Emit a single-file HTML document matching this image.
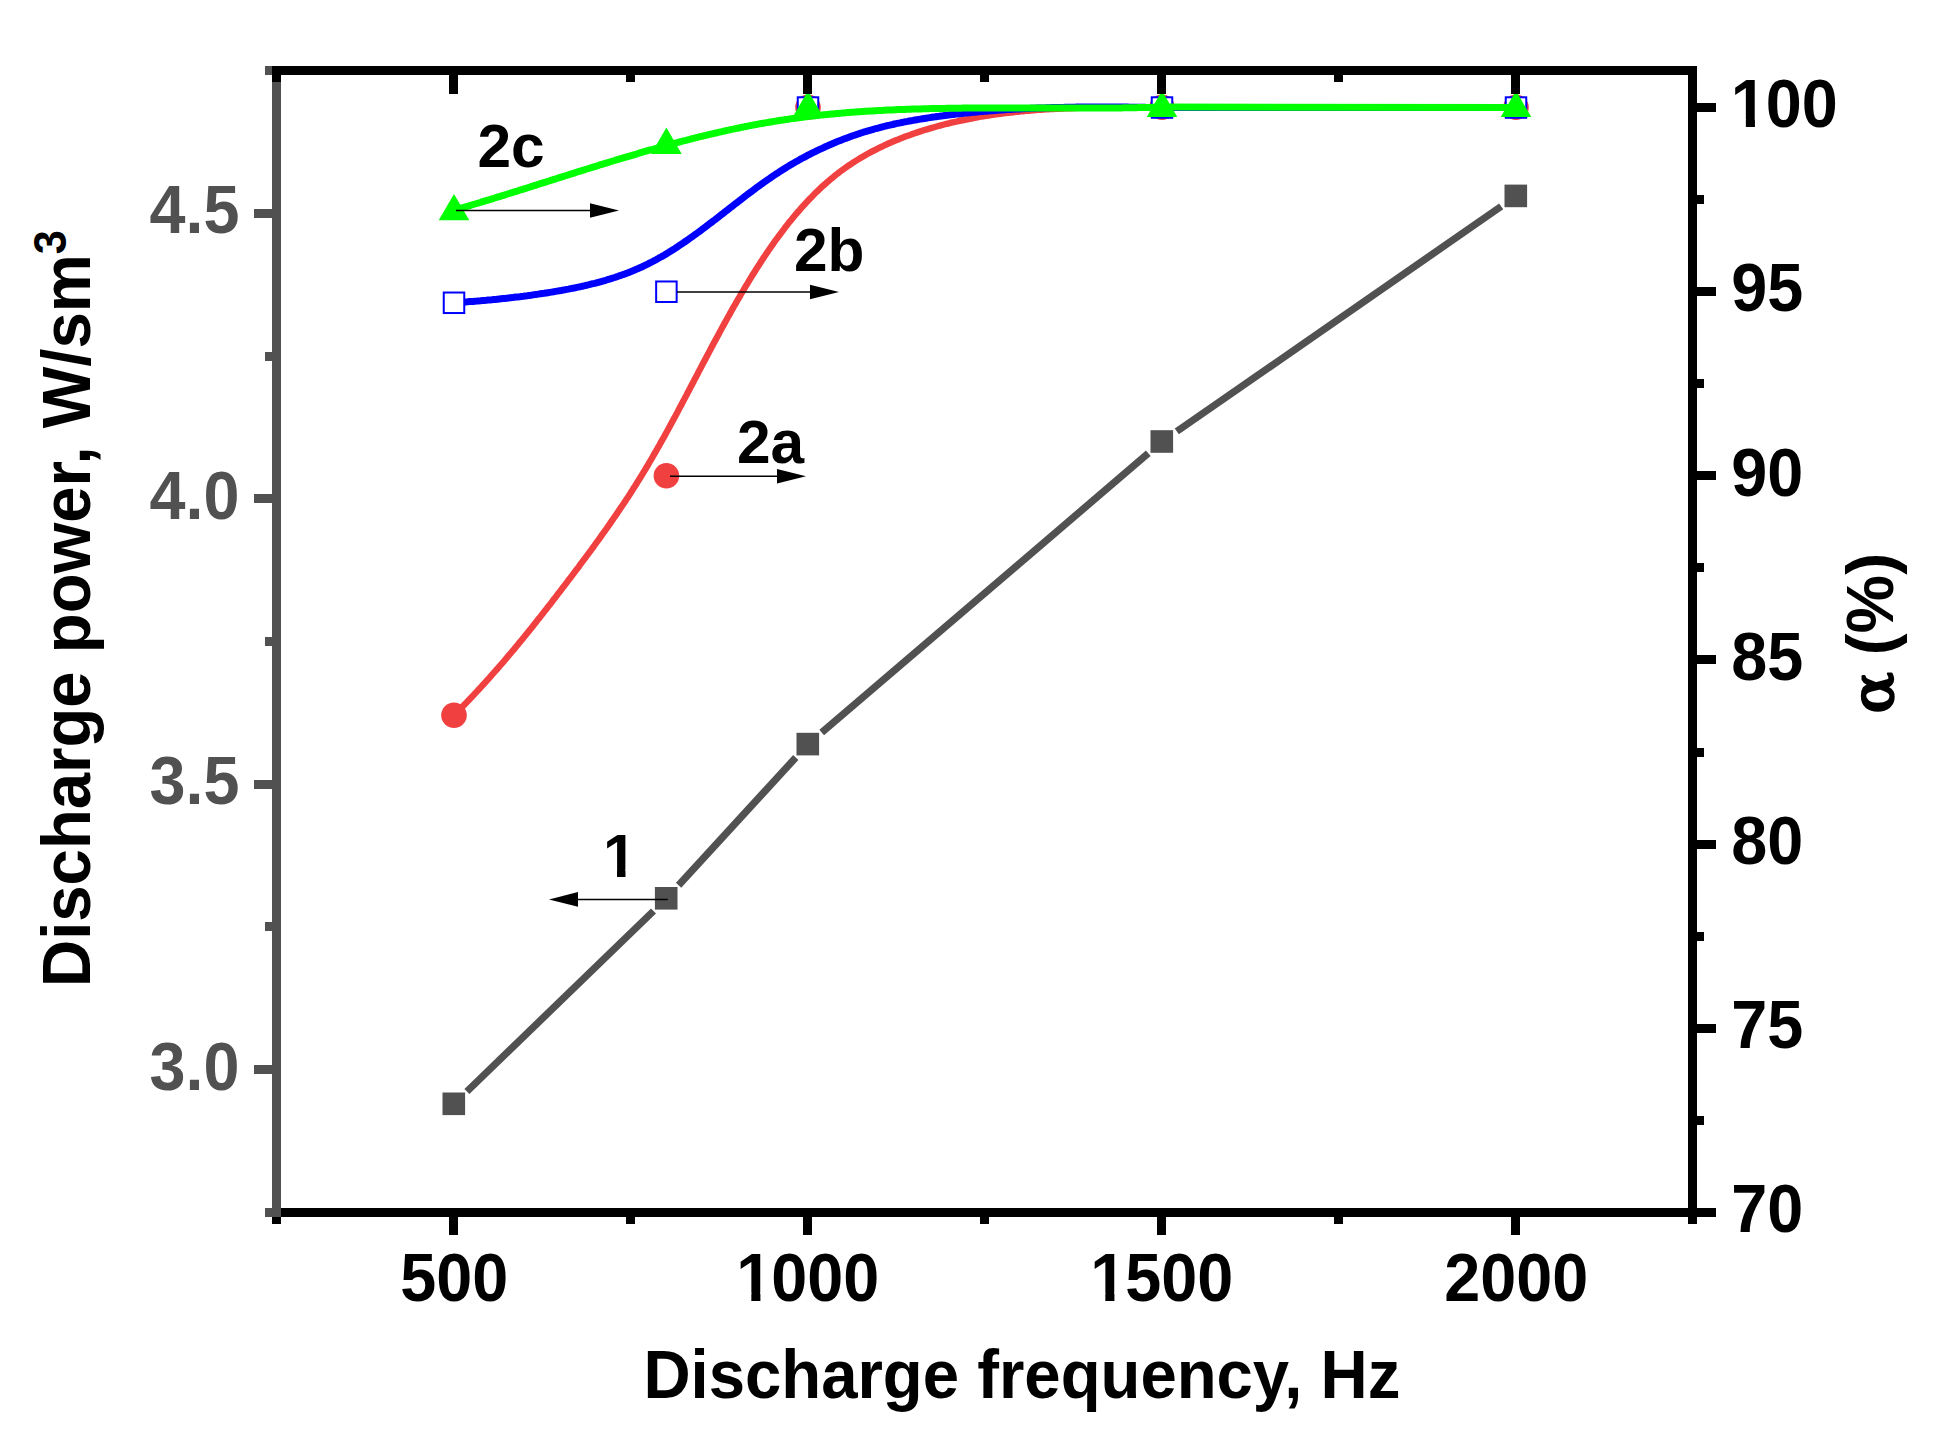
<!DOCTYPE html>
<html><head><meta charset="utf-8"><title>Discharge power and alpha vs discharge frequency</title>
<style>html,body{margin:0;padding:0;background:#fff}svg{display:block}</style></head>
<body>
<svg width="1944" height="1435" viewBox="0 0 1944 1435" font-family="'Liberation Sans',sans-serif" font-weight="bold">
<rect width="1944" height="1435" fill="#fff"/>
<defs><clipPath id="one0"><path d="M-5,-68.30 H68.30 V-8.17 H25.41 V2 H15.84 V-8.17 H-5 Z"/></clipPath><clipPath id="one1"><path d="M-5,-61.00 H61.00 V-7.43 H22.71 V2 H14.14 V-7.43 H-5 Z"/></clipPath></defs>
<line x1="466.9" y1="1091.5" x2="653.5" y2="911.0" stroke="#515151" stroke-width="7.2"/>
<line x1="678.6" y1="885.2" x2="795.8" y2="757.5" stroke="#515151" stroke-width="7.2"/>
<line x1="821.7" y1="732.6" x2="1148.3" y2="453.3" stroke="#515151" stroke-width="7.2"/>
<line x1="1176.8" y1="431.4" x2="1501.2" y2="206.4" stroke="#515151" stroke-width="7.2"/>
<rect x="442.5" y="1092.5" width="22.6" height="22.6" fill="#515151"/>
<rect x="654.9" y="887.0" width="22.6" height="22.6" fill="#515151"/>
<rect x="796.5" y="732.8" width="22.6" height="22.6" fill="#515151"/>
<rect x="1150.5" y="430.2" width="22.6" height="22.6" fill="#515151"/>
<rect x="1504.5" y="184.6" width="22.6" height="22.6" fill="#515151"/>
<path d="M454.2,714.9 L456.0,713.1 L457.8,711.4 L459.6,709.6 L461.3,707.8 L463.1,706.0 L464.8,704.2 L466.6,702.4 L468.4,700.5 L470.1,698.7 L471.8,696.9 L473.6,695.1 L475.3,693.2 L477.0,691.4 L478.7,689.5 L480.4,687.7 L482.1,685.8 L483.8,684.0 L485.5,682.1 L487.2,680.2 L488.9,678.4 L490.5,676.5 L492.2,674.6 L493.9,672.7 L495.5,670.9 L497.2,669.0 L498.8,667.1 L500.5,665.2 L502.1,663.3 L503.8,661.4 L505.4,659.5 L507.0,657.5 L508.6,655.6 L510.3,653.7 L511.9,651.8 L513.5,649.9 L515.1,647.9 L516.7,646.0 L518.3,644.1 L519.9,642.1 L521.5,640.2 L523.1,638.2 L524.7,636.3 L526.3,634.3 L527.8,632.4 L529.4,630.4 L531.0,628.5 L532.6,626.5 L534.1,624.5 L535.7,622.6 L537.2,620.6 L538.8,618.6 L540.4,616.7 L541.9,614.7 L543.5,612.7 L545.0,610.7 L546.6,608.7 L548.1,606.8 L549.7,604.8 L551.2,602.8 L552.7,600.8 L554.3,598.8 L555.8,596.8 L557.3,594.8 L558.9,592.8 L560.4,590.8 L561.9,588.8 L563.5,586.8 L565.0,584.8 L566.5,582.8 L568.0,580.8 L569.6,578.8 L571.1,576.8 L572.6,574.8 L574.1,572.8 L575.6,570.8 L577.2,568.8 L578.7,566.8 L580.2,564.7 L581.7,562.7 L583.2,560.7 L584.7,558.7 L586.2,556.6 L587.7,554.6 L589.2,552.6 L590.7,550.6 L592.2,548.5 L593.7,546.5 L595.1,544.5 L596.6,542.4 L598.1,540.4 L599.6,538.3 L601.0,536.3 L602.5,534.2 L604.0,532.2 L605.4,530.1 L606.9,528.1 L608.3,526.0 L609.8,524.0 L611.2,521.9 L612.6,519.8 L614.1,517.7 L615.5,515.7 L616.9,513.6 L618.3,511.5 L619.7,509.4 L621.1,507.3 L622.5,505.3 L623.9,503.2 L625.3,501.1 L626.7,499.0 L628.1,496.9 L629.5,494.8 L630.8,492.6 L632.2,490.5 L633.5,488.4 L634.9,486.3 L636.2,484.2 L637.5,482.0 L638.9,479.9 L640.2,477.8 L641.5,475.6 L642.8,473.5 L644.1,471.3 L645.4,469.2 L646.7,467.0 L648.0,464.9 L649.2,462.7 L650.5,460.6 L651.8,458.4 L653.0,456.2 L654.3,454.0 L655.5,451.9 L656.8,449.7 L658.0,447.5 L659.3,445.3 L660.5,443.1 L661.7,440.9 L662.9,438.8 L664.2,436.6 L665.4,434.4 L666.6,432.2 L667.8,430.0 L669.0,427.8 L670.2,425.6 L671.4,423.3 L672.6,421.1 L673.8,418.9 L675.0,416.7 L676.2,414.5 L677.4,412.3 L678.5,410.1 L679.7,407.8 L680.9,405.6 L682.1,403.4 L683.2,401.2 L684.4,399.0 L685.6,396.7 L686.8,394.5 L687.9,392.3 L689.1,390.1 L690.3,387.8 L691.4,385.6 L692.6,383.4 L693.8,381.2 L694.9,378.9 L696.1,376.7 L697.3,374.5 L698.4,372.3 L699.6,370.0 L700.8,367.8 L701.9,365.6 L703.1,363.3 L704.3,361.1 L705.5,358.9 L706.6,356.7 L707.8,354.4 L709.0,352.2 L710.2,350.0 L711.3,347.8 L712.5,345.6 L713.7,343.3 L714.9,341.1 L716.1,338.9 L717.3,336.7 L718.5,334.5 L719.7,332.2 L720.9,330.0 L722.1,327.8 L723.3,325.6 L724.5,323.4 L725.7,321.2 L726.9,319.0 L728.1,316.8 L729.4,314.6 L730.6,312.4 L731.8,310.2 L733.1,308.0 L734.3,305.8 L735.6,303.6 L736.8,301.4 L738.1,299.3 L739.4,297.1 L740.6,294.9 L741.9,292.7 L743.2,290.6 L744.5,288.4 L745.8,286.2 L747.1,284.1 L748.4,281.9 L749.7,279.7 L751.0,277.6 L752.3,275.4 L753.7,273.3 L755.0,271.2 L756.3,269.0 L757.7,266.9 L759.1,264.8 L760.4,262.6 L761.8,260.5 L763.2,258.4 L764.6,256.3 L766.0,254.2 L767.4,252.1 L768.8,250.0 L770.3,247.9 L771.7,245.9 L773.2,243.8 L774.6,241.7 L776.1,239.7 L777.6,237.7 L779.1,235.6 L780.6,233.6 L782.1,231.6 L783.6,229.6 L785.1,227.6 L786.7,225.6 L788.2,223.6 L789.8,221.6 L791.4,219.7 L793.0,217.7 L794.6,215.8 L796.2,213.9 L797.8,212.0 L799.5,210.1 L801.1,208.2 L802.8,206.3 L804.5,204.5 L806.2,202.6 L807.9,200.8 L809.6,199.0 L811.4,197.2 L813.1,195.4 L814.9,193.6 L816.7,191.8 L818.5,190.1 L820.3,188.4 L822.1,186.7 L824.0,185.0 L825.9,183.3 L827.7,181.7 L829.6,180.1 L831.5,178.5 L833.5,176.9 L835.4,175.3 L837.4,173.8 L839.3,172.2 L841.3,170.7 L843.4,169.3 L845.4,167.8 L847.4,166.4 L849.5,165.0 L851.6,163.6 L853.7,162.2 L855.8,160.9 L857.9,159.6 L860.0,158.3 L862.2,157.0 L864.4,155.7 L866.5,154.5 L868.7,153.3 L870.9,152.1 L873.2,150.9 L875.4,149.8 L877.6,148.7 L879.9,147.5 L882.2,146.5 L884.4,145.4 L886.7,144.3 L889.0,143.3 L891.3,142.3 L893.7,141.3 L896.0,140.3 L898.3,139.4 L900.7,138.4 L903.0,137.5 L905.4,136.6 L907.8,135.7 L910.1,134.9 L912.5,134.0 L914.9,133.2 L917.3,132.4 L919.7,131.6 L922.1,130.8 L924.5,130.0 L927.0,129.3 L929.4,128.6 L931.8,127.9 L934.2,127.2 L936.7,126.5 L939.1,125.8 L941.6,125.2 L944.0,124.5 L946.4,123.9 L948.9,123.3 L951.3,122.7 L953.8,122.1 L956.3,121.6 L958.7,121.0 L961.2,120.5 L963.6,120.0 L966.1,119.5 L968.6,119.0 L971.0,118.5 L973.5,118.0 L976.0,117.6 L978.4,117.1 L980.9,116.7 L983.4,116.3 L985.9,115.9 L988.4,115.5 L990.8,115.1 L993.3,114.7 L995.8,114.4 L998.3,114.0 L1000.8,113.7 L1003.3,113.4 L1005.8,113.1 L1008.3,112.8 L1010.8,112.5 L1013.3,112.2 L1015.7,111.9 L1018.2,111.7 L1020.7,111.4 L1023.2,111.2 L1025.7,110.9 L1028.3,110.7 L1030.8,110.5 L1033.3,110.3 L1035.8,110.1 L1038.3,109.9 L1040.8,109.7 L1043.3,109.6 L1045.8,109.4 L1048.3,109.2 L1050.8,109.1 L1053.3,109.0 L1055.8,108.8 L1058.4,108.7 L1060.9,108.6 L1063.4,108.5 L1065.9,108.4 L1068.4,108.3 L1070.9,108.2 L1073.4,108.1 L1076.0,108.0 L1078.5,107.9 L1081.0,107.9 L1083.5,107.8 L1086.0,107.7 L1088.6,107.7 L1091.1,107.6 L1093.6,107.6 L1096.1,107.5 L1098.6,107.5 L1101.1,107.5 L1103.7,107.4 L1106.2,107.4 L1108.7,107.4 L1111.2,107.4 L1113.7,107.4 L1116.3,107.4 L1118.8,107.3 L1121.3,107.3 L1123.8,107.3 L1126.3,107.3 L1128.8,107.3 L1131.3,107.3 L1133.9,107.3 L1136.4,107.4 L1138.9,107.4 L1141.4,107.4 L1143.9,107.4 L1146.4,107.4 L1148.9,107.4 L1151.4,107.4 L1154.0,107.4 L1156.5,107.5 L1159.0,107.5 L1161.5,107.5 L1516.0,107.4" fill="none" stroke="#f14040" stroke-width="6.4" stroke-linejoin="round"/>
<circle cx="454.0" cy="715.2" r="12.8" fill="#f14040"/>
<circle cx="666.4" cy="475.7" r="12.8" fill="#f14040"/>
<circle cx="808.0" cy="107.3" r="12.8" fill="#f14040"/>
<circle cx="1162.0" cy="107.3" r="12.8" fill="#f14040"/>
<circle cx="1516.0" cy="107.3" r="12.8" fill="#f14040"/>
<path d="M454.4,302.6 L456.3,302.5 L458.2,302.4 L460.0,302.3 L461.9,302.2 L463.8,302.0 L465.7,301.9 L467.5,301.8 L469.4,301.6 L471.3,301.5 L473.1,301.4 L475.0,301.2 L476.9,301.1 L478.7,300.9 L480.6,300.8 L482.5,300.6 L484.3,300.4 L486.2,300.3 L488.1,300.1 L489.9,299.9 L491.8,299.8 L493.7,299.6 L495.5,299.4 L497.4,299.2 L499.2,299.0 L501.1,298.8 L503.0,298.6 L504.8,298.4 L506.7,298.2 L508.6,298.0 L510.4,297.8 L512.3,297.6 L514.2,297.3 L516.0,297.1 L517.9,296.9 L519.8,296.7 L521.6,296.4 L523.5,296.2 L525.4,295.9 L527.3,295.7 L529.1,295.4 L531.0,295.2 L532.9,294.9 L534.8,294.6 L536.6,294.4 L538.5,294.1 L540.4,293.8 L542.3,293.5 L544.1,293.3 L546.0,293.0 L547.9,292.7 L549.8,292.4 L551.7,292.1 L553.6,291.8 L555.4,291.4 L557.3,291.1 L559.2,290.8 L561.1,290.5 L563.0,290.1 L564.8,289.8 L566.7,289.4 L568.6,289.1 L570.5,288.7 L572.3,288.3 L574.2,288.0 L576.1,287.6 L578.0,287.2 L579.8,286.8 L581.7,286.4 L583.6,286.0 L585.4,285.5 L587.3,285.1 L589.1,284.7 L591.0,284.2 L592.8,283.7 L594.7,283.3 L596.5,282.8 L598.4,282.3 L600.2,281.8 L602.0,281.3 L603.8,280.8 L605.7,280.3 L607.5,279.7 L609.3,279.2 L611.1,278.6 L612.9,278.0 L614.7,277.5 L616.5,276.9 L618.3,276.3 L620.1,275.6 L621.8,275.0 L623.6,274.4 L625.4,273.7 L627.1,273.1 L628.9,272.4 L630.6,271.7 L632.4,271.0 L634.1,270.3 L635.8,269.5 L637.6,268.8 L639.3,268.0 L641.0,267.3 L642.7,266.5 L644.4,265.7 L646.0,264.9 L647.7,264.1 L649.4,263.2 L651.0,262.4 L652.7,261.5 L654.3,260.6 L656.0,259.8 L657.6,258.9 L659.2,257.9 L660.9,257.0 L662.5,256.1 L664.1,255.2 L665.7,254.2 L667.3,253.2 L668.9,252.3 L670.5,251.3 L672.1,250.3 L673.7,249.3 L675.2,248.3 L676.8,247.3 L678.4,246.2 L679.9,245.2 L681.5,244.1 L683.0,243.1 L684.6,242.0 L686.1,241.0 L687.7,239.9 L689.2,238.8 L690.7,237.7 L692.3,236.6 L693.8,235.5 L695.3,234.4 L696.9,233.3 L698.4,232.2 L699.9,231.1 L701.4,230.0 L702.9,228.8 L704.4,227.7 L705.9,226.6 L707.4,225.4 L708.9,224.3 L710.4,223.1 L712.0,222.0 L713.5,220.8 L715.0,219.7 L716.5,218.5 L717.9,217.4 L719.4,216.2 L720.9,215.0 L722.4,213.9 L723.9,212.7 L725.4,211.5 L726.9,210.4 L728.4,209.2 L729.9,208.0 L731.4,206.9 L732.9,205.7 L734.4,204.5 L735.9,203.4 L737.4,202.2 L738.9,201.1 L740.4,199.9 L741.9,198.7 L743.4,197.6 L744.9,196.4 L746.4,195.3 L747.9,194.1 L749.4,193.0 L751.0,191.9 L752.5,190.7 L754.0,189.6 L755.5,188.5 L757.0,187.3 L758.6,186.2 L760.1,185.1 L761.6,184.0 L763.2,182.9 L764.7,181.8 L766.3,180.7 L767.8,179.6 L769.4,178.6 L770.9,177.5 L772.5,176.4 L774.0,175.4 L775.6,174.3 L777.2,173.3 L778.7,172.3 L780.3,171.2 L781.9,170.2 L783.5,169.2 L785.1,168.2 L786.7,167.2 L788.3,166.3 L789.9,165.3 L791.5,164.3 L793.2,163.4 L794.8,162.4 L796.4,161.5 L798.1,160.6 L799.7,159.6 L801.4,158.7 L803.0,157.8 L804.7,157.0 L806.3,156.1 L808.0,155.2 L809.7,154.3 L811.3,153.5 L813.0,152.6 L814.7,151.8 L816.4,151.0 L818.1,150.2 L819.8,149.4 L821.5,148.6 L823.2,147.8 L824.9,147.0 L826.6,146.2 L828.3,145.5 L830.0,144.7 L831.7,144.0 L833.5,143.2 L835.2,142.5 L836.9,141.8 L838.7,141.1 L840.4,140.4 L842.2,139.7 L843.9,139.0 L845.7,138.4 L847.5,137.7 L849.2,137.1 L851.0,136.4 L852.8,135.8 L854.5,135.2 L856.3,134.6 L858.1,134.0 L859.9,133.4 L861.7,132.8 L863.5,132.2 L865.3,131.7 L867.1,131.1 L868.9,130.6 L870.7,130.1 L872.5,129.6 L874.3,129.0 L876.1,128.5 L878.0,128.1 L879.8,127.6 L881.6,127.1 L883.4,126.6 L885.3,126.2 L887.1,125.7 L888.9,125.3 L890.8,124.9 L892.6,124.5 L894.5,124.0 L896.3,123.6 L898.2,123.2 L900.0,122.9 L901.9,122.5 L903.7,122.1 L905.6,121.7 L907.5,121.4 L909.3,121.0 L911.2,120.7 L913.0,120.4 L914.9,120.0 L916.8,119.7 L918.7,119.4 L920.5,119.1 L922.4,118.8 L924.3,118.5 L926.1,118.2 L928.0,117.9 L929.9,117.6 L931.8,117.3 L933.6,117.0 L935.5,116.8 L937.4,116.5 L939.3,116.3 L941.2,116.0 L943.0,115.8 L944.9,115.5 L946.8,115.3 L948.7,115.0 L950.5,114.8 L952.4,114.6 L954.3,114.4 L956.2,114.1 L958.1,113.9 L959.9,113.7 L961.8,113.5 L963.7,113.3 L965.6,113.1 L967.4,112.9 L969.3,112.7 L971.2,112.5 L973.1,112.3 L975.0,112.2 L976.8,112.0 L978.7,111.8 L980.6,111.6 L982.5,111.5 L984.4,111.3 L986.2,111.2 L988.1,111.0 L990.0,110.8 L991.9,110.7 L993.7,110.6 L995.6,110.4 L997.5,110.3 L999.4,110.1 L1001.3,110.0 L1003.1,109.9 L1005.0,109.8 L1006.9,109.6 L1008.8,109.5 L1010.7,109.4 L1012.5,109.3 L1014.4,109.2 L1016.3,109.1 L1018.2,109.0 L1020.1,108.9 L1021.9,108.8 L1023.8,108.7 L1025.7,108.6 L1027.6,108.5 L1029.5,108.4 L1031.3,108.3 L1033.2,108.3 L1035.1,108.2 L1037.0,108.1 L1038.9,108.0 L1040.8,108.0 L1042.6,107.9 L1044.5,107.9 L1046.4,107.8 L1048.3,107.7 L1050.2,107.7 L1052.1,107.6 L1053.9,107.6 L1055.8,107.5 L1057.7,107.5 L1059.6,107.4 L1061.5,107.4 L1063.3,107.4 L1065.2,107.3 L1067.1,107.3 L1069.0,107.2 L1070.9,107.2 L1072.8,107.2 L1074.7,107.2 L1076.5,107.1 L1078.4,107.1 L1080.3,107.1 L1082.2,107.1 L1084.1,107.1 L1086.0,107.0 L1087.8,107.0 L1089.7,107.0 L1091.6,107.0 L1093.5,107.0 L1095.4,107.0 L1097.3,107.0 L1099.2,107.0 L1101.0,107.0 L1102.9,107.0 L1104.8,107.0 L1106.7,107.0 L1108.6,107.0 L1110.5,107.0 L1112.4,107.0 L1114.3,107.0 L1116.1,107.0 L1118.0,107.1 L1119.9,107.1 L1121.8,107.1 L1123.7,107.1 L1125.6,107.1 L1127.5,107.1 L1129.4,107.2 L1131.3,107.2 L1133.2,107.2 L1135.0,107.2 L1136.9,107.2 L1138.8,107.3 L1140.7,107.3 L1142.6,107.3 L1144.5,107.3 L1146.4,107.4 L1148.3,107.4 L1150.2,107.4 L1152.1,107.5 L1154.0,107.5 L1155.8,107.5 L1157.7,107.6 L1159.6,107.6 L1161.5,107.6 L1516.0,107.4" fill="none" stroke="#0000ff" stroke-width="7" stroke-linejoin="round"/>
<rect x="443.75" y="292.53" width="20.5" height="20.5" fill="#fff" stroke="#0000ff" stroke-width="2"/>
<rect x="656.15" y="281.48" width="20.5" height="20.5" fill="#fff" stroke="#0000ff" stroke-width="2"/>
<rect x="797.75" y="97.29" width="20.5" height="20.5" fill="#fff" stroke="#0000ff" stroke-width="2"/>
<rect x="1151.75" y="97.29" width="20.5" height="20.5" fill="#fff" stroke="#0000ff" stroke-width="2"/>
<rect x="1505.75" y="97.29" width="20.5" height="20.5" fill="#fff" stroke="#0000ff" stroke-width="2"/>
<path d="M454.4,210.1 L456.1,209.6 L457.8,209.1 L459.5,208.6 L461.3,208.1 L463.0,207.6 L464.7,207.1 L466.4,206.6 L468.1,206.1 L469.9,205.6 L471.6,205.0 L473.3,204.5 L475.0,204.0 L476.7,203.5 L478.5,203.0 L480.2,202.5 L481.9,201.9 L483.6,201.4 L485.3,200.9 L487.1,200.4 L488.8,199.8 L490.5,199.3 L492.2,198.8 L493.9,198.3 L495.7,197.7 L497.4,197.2 L499.1,196.7 L500.8,196.1 L502.5,195.6 L504.3,195.1 L506.0,194.5 L507.7,194.0 L509.4,193.5 L511.1,192.9 L512.9,192.4 L514.6,191.8 L516.3,191.3 L518.0,190.8 L519.7,190.2 L521.5,189.7 L523.2,189.1 L524.9,188.6 L526.6,188.1 L528.4,187.5 L530.1,187.0 L531.8,186.4 L533.5,185.9 L535.2,185.3 L537.0,184.8 L538.7,184.2 L540.4,183.7 L542.1,183.1 L543.9,182.6 L545.6,182.1 L547.3,181.5 L549.0,181.0 L550.8,180.4 L552.5,179.9 L554.2,179.3 L555.9,178.8 L557.7,178.2 L559.4,177.7 L561.1,177.1 L562.8,176.6 L564.5,176.0 L566.3,175.5 L568.0,175.0 L569.7,174.4 L571.5,173.9 L573.2,173.3 L574.9,172.8 L576.6,172.2 L578.4,171.7 L580.1,171.2 L581.8,170.6 L583.5,170.1 L585.3,169.5 L587.0,169.0 L588.7,168.5 L590.5,167.9 L592.2,167.4 L593.9,166.8 L595.6,166.3 L597.4,165.8 L599.1,165.2 L600.8,164.7 L602.6,164.2 L604.3,163.6 L606.0,163.1 L607.8,162.6 L609.5,162.0 L611.2,161.5 L612.9,161.0 L614.7,160.5 L616.4,159.9 L618.1,159.4 L619.9,158.9 L621.6,158.4 L623.3,157.9 L625.1,157.3 L626.8,156.8 L628.6,156.3 L630.3,155.8 L632.0,155.3 L633.8,154.8 L635.5,154.3 L637.2,153.8 L639.0,153.2 L640.7,152.7 L642.4,152.2 L644.2,151.7 L645.9,151.2 L647.7,150.7 L649.4,150.2 L651.1,149.7 L652.9,149.3 L654.6,148.8 L656.4,148.3 L658.1,147.8 L659.8,147.3 L661.6,146.8 L663.3,146.3 L665.1,145.9 L666.8,145.4 L668.6,144.9 L670.3,144.4 L672.0,144.0 L673.8,143.5 L675.5,143.0 L677.3,142.6 L679.0,142.1 L680.8,141.6 L682.5,141.2 L684.3,140.7 L686.0,140.3 L687.8,139.8 L689.5,139.4 L691.3,138.9 L693.0,138.5 L694.8,138.0 L696.5,137.6 L698.3,137.2 L700.0,136.7 L701.8,136.3 L703.5,135.9 L705.3,135.5 L707.0,135.0 L708.8,134.6 L710.5,134.2 L712.3,133.8 L714.0,133.4 L715.8,133.0 L717.6,132.6 L719.3,132.2 L721.1,131.8 L722.8,131.4 L724.6,131.0 L726.3,130.6 L728.1,130.2 L729.9,129.8 L731.6,129.4 L733.4,129.1 L735.2,128.7 L736.9,128.3 L738.7,128.0 L740.4,127.6 L742.2,127.2 L744.0,126.9 L745.7,126.5 L747.5,126.2 L749.3,125.8 L751.0,125.5 L752.8,125.1 L754.6,124.8 L756.3,124.5 L758.1,124.1 L759.9,123.8 L761.7,123.5 L763.4,123.2 L765.2,122.9 L767.0,122.6 L768.7,122.3 L770.5,122.0 L772.3,121.7 L774.1,121.4 L775.8,121.1 L777.6,120.8 L779.4,120.5 L781.2,120.2 L782.9,120.0 L784.7,119.7 L786.5,119.4 L788.3,119.2 L790.1,118.9 L791.9,118.6 L793.6,118.4 L795.4,118.2 L797.2,117.9 L799.0,117.7 L800.8,117.4 L802.6,117.2 L804.3,117.0 L806.1,116.8 L807.9,116.5 L809.7,116.3 L811.5,116.1 L813.3,115.9 L815.1,115.7 L816.9,115.5 L818.6,115.3 L820.4,115.1 L822.2,114.9 L824.0,114.7 L825.8,114.6 L827.6,114.4 L829.4,114.2 L831.2,114.0 L833.0,113.9 L834.8,113.7 L836.6,113.5 L838.4,113.4 L840.2,113.2 L842.0,113.1 L843.8,112.9 L845.6,112.8 L847.4,112.6 L849.2,112.5 L851.0,112.3 L852.8,112.2 L854.5,112.1 L856.3,111.9 L858.1,111.8 L859.9,111.7 L861.7,111.6 L863.6,111.4 L865.4,111.3 L867.2,111.2 L869.0,111.1 L870.8,111.0 L872.6,110.9 L874.4,110.8 L876.2,110.7 L878.0,110.6 L879.8,110.5 L881.6,110.4 L883.4,110.3 L885.2,110.2 L887.0,110.1 L888.8,110.0 L890.6,109.9 L892.4,109.9 L894.2,109.8 L896.0,109.7 L897.8,109.6 L899.6,109.6 L901.4,109.5 L903.2,109.4 L905.0,109.4 L906.9,109.3 L908.7,109.2 L910.5,109.2 L912.3,109.1 L914.1,109.1 L915.9,109.0 L917.7,109.0 L919.5,108.9 L921.3,108.9 L923.1,108.8 L924.9,108.8 L926.7,108.7 L928.5,108.7 L930.4,108.6 L932.2,108.6 L934.0,108.6 L935.8,108.5 L937.6,108.5 L939.4,108.5 L941.2,108.4 L943.0,108.4 L944.8,108.4 L946.6,108.3 L948.4,108.3 L950.2,108.3 L952.1,108.3 L953.9,108.2 L955.7,108.2 L957.5,108.2 L959.3,108.2 L961.1,108.2 L962.9,108.1 L964.7,108.1 L966.5,108.1 L968.3,108.1 L970.1,108.1 L972.0,108.1 L973.8,108.1 L975.6,108.0 L977.4,108.0 L979.2,108.0 L981.0,108.0 L982.8,108.0 L984.6,108.0 L986.4,108.0 L988.2,108.0 L990.0,108.0 L991.8,108.0 L993.7,108.0 L995.5,108.0 L997.3,108.0 L999.1,108.0 L1000.9,108.0 L1002.7,108.0 L1004.5,108.0 L1006.3,108.0 L1008.1,108.0 L1009.9,108.0 L1011.7,108.0 L1013.5,108.0 L1015.4,108.0 L1017.2,108.0 L1019.0,108.0 L1020.8,108.0 L1022.6,108.0 L1024.4,108.0 L1026.2,108.0 L1028.0,108.0 L1029.8,108.0 L1031.6,108.0 L1033.4,108.0 L1035.2,108.0 L1037.0,108.0 L1038.8,108.0 L1040.7,108.0 L1042.5,108.0 L1044.3,108.0 L1046.1,108.0 L1047.9,108.1 L1049.7,108.1 L1051.5,108.1 L1053.3,108.1 L1055.1,108.1 L1056.9,108.1 L1058.7,108.1 L1060.5,108.1 L1062.3,108.1 L1064.1,108.1 L1065.9,108.1 L1067.7,108.1 L1069.6,108.1 L1071.4,108.1 L1073.2,108.1 L1075.0,108.1 L1076.8,108.1 L1078.6,108.1 L1080.4,108.1 L1082.2,108.1 L1084.0,108.1 L1085.8,108.1 L1087.6,108.1 L1089.4,108.1 L1091.2,108.1 L1093.0,108.1 L1094.8,108.1 L1096.6,108.1 L1098.4,108.0 L1100.2,108.0 L1102.0,108.0 L1103.8,108.0 L1105.6,108.0 L1107.4,108.0 L1109.2,108.0 L1111.0,108.0 L1112.8,108.0 L1114.6,107.9 L1116.4,107.9 L1118.2,107.9 L1120.0,107.9 L1121.8,107.9 L1123.6,107.8 L1125.4,107.8 L1127.2,107.8 L1129.0,107.8 L1130.8,107.7 L1132.6,107.7 L1134.4,107.7 L1136.2,107.7 L1138.0,107.6 L1139.8,107.6 L1141.6,107.6 L1143.4,107.5 L1145.2,107.5 L1147.0,107.4 L1148.8,107.4 L1150.6,107.4 L1152.4,107.3 L1154.2,107.3 L1156.0,107.2 L1157.8,107.2 L1159.6,107.1 L1161.4,107.1 L1516.0,107.4" fill="none" stroke="#00ff00" stroke-width="7" stroke-linejoin="round"/>
<polygon points="454.0,193.9 438.7,220.3 469.3,220.3" fill="#00ff00"/>
<polygon points="666.4,127.6 651.1,154.0 681.7,154.0" fill="#00ff00"/>
<polygon points="808.0,90.7 792.7,117.1 823.3,117.1" fill="#00ff00"/>
<polygon points="1162.0,90.7 1146.7,117.1 1177.3,117.1" fill="#00ff00"/>
<polygon points="1516.0,90.7 1500.7,117.1 1531.3,117.1" fill="#00ff00"/>
<g shape-rendering="crispEdges">
<rect x="272" y="1208" width="1425" height="9" fill="#000"/>
<rect x="449" y="1217" width="9" height="18" fill="#000"/>
<rect x="803" y="1217" width="9" height="18" fill="#000"/>
<rect x="1157" y="1217" width="9" height="18" fill="#000"/>
<rect x="1511" y="1217" width="9" height="18" fill="#000"/>
<rect x="272" y="1217" width="9" height="7" fill="#000"/>
<rect x="626" y="1217" width="9" height="7" fill="#000"/>
<rect x="980" y="1217" width="9" height="7" fill="#000"/>
<rect x="1334" y="1217" width="9" height="7" fill="#000"/>
<rect x="1688" y="1217" width="9" height="7" fill="#000"/>
<rect x="272" y="66" width="9" height="1151" fill="#515151"/>
<rect x="254" y="1065" width="18" height="9" fill="#515151"/>
<rect x="254" y="780" width="18" height="9" fill="#515151"/>
<rect x="254" y="494" width="18" height="9" fill="#515151"/>
<rect x="254" y="209" width="18" height="9" fill="#515151"/>
<rect x="265" y="1208" width="7" height="9" fill="#515151"/>
<rect x="265" y="922" width="7" height="9" fill="#515151"/>
<rect x="265" y="637" width="7" height="9" fill="#515151"/>
<rect x="265" y="352" width="7" height="9" fill="#515151"/>
<rect x="265" y="66" width="7" height="9" fill="#515151"/>
<rect x="272" y="66" width="1425" height="9" fill="#000"/>
<rect x="449" y="75" width="9" height="19" fill="#000"/>
<rect x="803" y="75" width="9" height="19" fill="#000"/>
<rect x="1157" y="75" width="9" height="19" fill="#000"/>
<rect x="1511" y="75" width="9" height="19" fill="#000"/>
<rect x="272" y="75" width="9" height="7" fill="#000"/>
<rect x="626" y="75" width="9" height="7" fill="#000"/>
<rect x="980" y="75" width="9" height="7" fill="#000"/>
<rect x="1334" y="75" width="9" height="7" fill="#000"/>
<rect x="1688" y="75" width="9" height="7" fill="#000"/>
<rect x="1688" y="66" width="9" height="1151" fill="#000"/>
<rect x="1697" y="1208" width="19" height="9" fill="#000"/>
<rect x="1697" y="1024" width="19" height="9" fill="#000"/>
<rect x="1697" y="840" width="19" height="9" fill="#000"/>
<rect x="1697" y="655" width="19" height="9" fill="#000"/>
<rect x="1697" y="471" width="19" height="9" fill="#000"/>
<rect x="1697" y="287" width="19" height="9" fill="#000"/>
<rect x="1697" y="103" width="19" height="9" fill="#000"/>
<rect x="1697" y="1116" width="7" height="9" fill="#000"/>
<rect x="1697" y="932" width="7" height="9" fill="#000"/>
<rect x="1697" y="748" width="7" height="9" fill="#000"/>
<rect x="1697" y="563" width="7" height="9" fill="#000"/>
<rect x="1697" y="379" width="7" height="9" fill="#000"/>
<rect x="1697" y="195" width="7" height="9" fill="#000"/>
</g>
<line x1="456" y1="210.5" x2="590" y2="210.5" stroke="#000" stroke-width="1.5"/><polygon points="619,210.5 590,203.2 590,217.8" fill="#000"/>
<line x1="677" y1="292" x2="810" y2="292" stroke="#000" stroke-width="1.5"/><polygon points="839,292 810,284.7 810,299.3" fill="#000"/>
<line x1="670" y1="476.3" x2="777" y2="476.3" stroke="#000" stroke-width="1.5"/><polygon points="806,476.3 777,469.0 777,483.6" fill="#000"/>
<line x1="667.8" y1="899.4" x2="578" y2="899.4" stroke="#000" stroke-width="1.5"/><polygon points="549,899.4 578,892.1 578,906.6999999999999" fill="#000"/>
<text transform="translate(239.5,1089.5) scale(0.948,1)" font-size="68.3" fill="#515151" text-anchor="end">3.0</text>
<text transform="translate(239.5,804.0) scale(0.948,1)" font-size="68.3" fill="#515151" text-anchor="end">3.5</text>
<text transform="translate(239.5,518.5) scale(0.948,1)" font-size="68.3" fill="#515151" text-anchor="end">4.0</text>
<text transform="translate(239.5,232.9) scale(0.948,1)" font-size="68.3" fill="#515151" text-anchor="end">4.5</text>
<text transform="translate(1731.3,1232.4) scale(0.948,1)" font-size="68.3" fill="#000">70</text>
<text transform="translate(1731.3,1048.2) scale(0.948,1)" font-size="68.3" fill="#000">75</text>
<text transform="translate(1731.3,864.0) scale(0.948,1)" font-size="68.3" fill="#000">80</text>
<text transform="translate(1731.3,679.8) scale(0.948,1)" font-size="68.3" fill="#000">85</text>
<text transform="translate(1731.3,495.6) scale(0.948,1)" font-size="68.3" fill="#000">90</text>
<text transform="translate(1731.3,311.4) scale(0.948,1)" font-size="68.3" fill="#000">95</text>
<g transform="translate(1729.8,127.2) scale(0.948,1)" font-size="68.3" fill="#000"><g transform="translate(1.10,0)" clip-path="url(#one0)"><text>1</text></g><text x="37.99">00</text></g>
<text transform="translate(454.3,1301) scale(0.948,1)" font-size="68.3" fill="#000" text-anchor="middle">500</text>
<g transform="translate(807.3,1301) scale(0.948,1)" font-size="68.3" fill="#000"><g transform="translate(-74.87,0)" clip-path="url(#one0)"><text>1</text></g><text x="-37.99">000</text></g>
<g transform="translate(1161.3,1301) scale(0.948,1)" font-size="68.3" fill="#000"><g transform="translate(-74.87,0)" clip-path="url(#one0)"><text>1</text></g><text x="-37.99">500</text></g>
<text transform="translate(1516.3,1301) scale(0.948,1)" font-size="68.3" fill="#000" text-anchor="middle">2000</text>
<text transform="translate(643.4,1398) scale(0.956,1)" font-size="68.3" fill="#000">Discharge frequency, Hz</text>
<text transform="translate(90,987) rotate(-90) scale(0.956,1)" font-size="68.3" fill="#000">Discharge power, W/sm<tspan font-size="45.5" dy="-24">3</tspan></text>
<text transform="translate(1892.8,713.6) rotate(-90) scale(1.06,1)" font-size="58" fill="#000" font-family="'DejaVu Serif',serif" font-weight="normal" stroke="#000" stroke-width="2.4" stroke-linejoin="round">α</text>
<text transform="translate(1893,655.3) rotate(-90) scale(0.99,1)" font-size="66.5" fill="#000">(%)</text>
<text transform="translate(477.5,167) scale(0.99,1)" font-size="61" fill="#000">2c</text>
<text transform="translate(794,271) scale(0.99,1)" font-size="61" fill="#000">2b</text>
<text transform="translate(737,462.6) scale(0.99,1)" font-size="61" fill="#000">2a</text>
<g transform="translate(602,877) scale(0.99,1)" font-size="61" fill="#000"><g transform="translate(1.00,0)" clip-path="url(#one1)"><text>1</text></g></g>
</svg>
</body></html>
